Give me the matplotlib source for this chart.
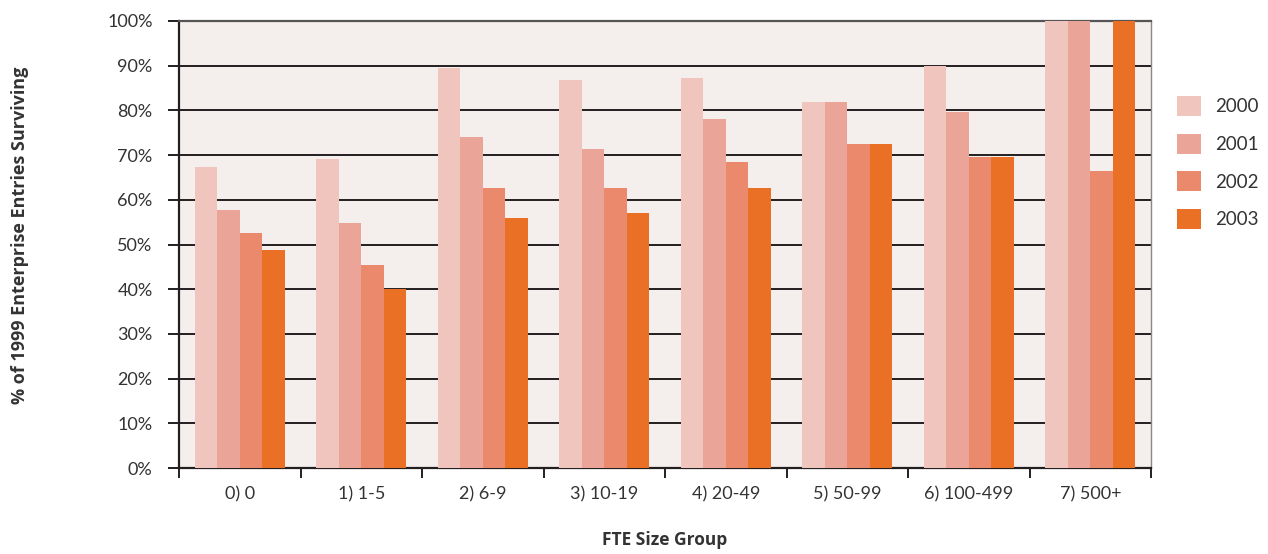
import numpy as np
import matplotlib.pyplot as plt

# Survival of 1999 enterprise entries by FTE size group
groups = ["0) 0", "1) 1-5", "2) 6-9", "3) 10-19", "4) 20-49", "5) 50-99", "6) 100-499", "7) 500+"]
years = ["2000", "2001", "2002", "2003"]
surv2000 = [67.3, 69.1, 89.5, 86.8, 87.2, 81.9, 89.9, 100.0]
surv2001 = [57.7, 54.8, 74.0, 71.4, 78.1, 81.9, 79.6, 100.0]
surv2002 = [52.6, 45.4, 62.6, 62.6, 68.5, 72.5, 69.6, 66.4]
surv2003 = [48.8, 40.0, 55.9, 57.0, 62.6, 72.5, 69.6, 100.0]
yticks = list(range(0, 101, 10))

colors = ["#EFC5BE", "#EBA598", "#EA896C", "#EA7026"]
dark = "#231F20"
plt.rcParams['font.family'] = ['Lato', 'DejaVu Sans']

fig = plt.figure(figsize=(12.68, 5.54), dpi=100)
ax = fig.add_axes([0.1412, 0.1552, 0.7666, 0.8069])
ax.set_facecolor("#F4EFEC")

x = np.arange(len(groups))
barW = 0.185
series = [surv2000, surv2001, surv2002, surv2003]
for i, vals in enumerate(series):
    ax.bar(x + (i - 1.5) * barW, vals, width=barW, color=colors[i],
           label=years[i], zorder=3, linewidth=0)

# Horizontal gridlines
for t in yticks[1:-1]:
    ax.axhline(t, color=dark, linewidth=1.4, zorder=2)

ax.set_xlim(-0.5, len(groups) - 0.5)
ax.set_ylim(0, 100)
ax.set_yticks(yticks)
ax.set_yticklabels([f"{t}%" for t in yticks], fontsize=13, color="#333333")
ax.tick_params(axis='y', length=8, width=1.4, color=dark, pad=11)

# Category ticks sit on the group boundaries, labels under the centres
ax.set_xticks(np.arange(len(groups) + 1) - 0.5)
ax.set_xticklabels([])
ax.set_xticks(x, minor=True)
ax.set_xticklabels(groups, minor=True, fontsize=13, color="#333333")
ax.tick_params(axis='x', which='major', length=7, width=1.4, color=dark)
ax.tick_params(axis='x', which='minor', length=0, pad=13)

for side in ["left", "bottom"]:
    ax.spines[side].set_color(dark)
    ax.spines[side].set_linewidth(1.6)
ax.spines["top"].set_color("#555555")
ax.spines["top"].set_linewidth(1.6)
ax.spines["right"].set_color("#888888")
ax.spines["right"].set_linewidth(1.0)

fig.text(0.016, 0.575, "% of 1999 Enterprise Entries Surviving", rotation=90,
         ha="center", va="center", fontsize=13, fontweight="bold",
         color="#333333", family="Open Sans")
fig.text(0.5245, 0.025, "FTE Size Group", ha="center", va="center",
         fontsize=12.5, fontweight="bold", color="#333333", family="Open Sans")

fig.legend(loc="upper left", bbox_to_anchor=(0.915, 0.857), frameon=False,
           handlelength=1.25, handleheight=1.25, labelspacing=0.95,
           handletextpad=0.8, fontsize=13.5, labelcolor="#333333")

fig.savefig("out.png", dpi=100)
